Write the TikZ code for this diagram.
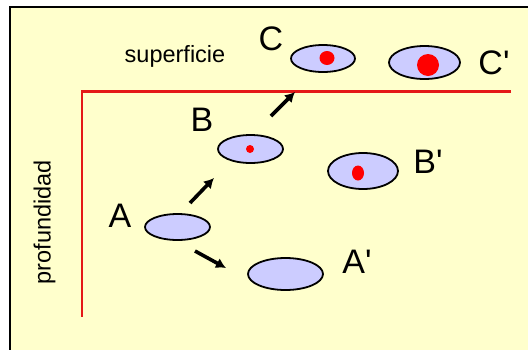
\documentclass[tikz,border=0pt]{standalone}
\usepackage{fontspec}
\setmainfont{Liberation Sans}
\usepackage{tikz}
\usetikzlibrary{arrows.meta,shapes.geometric}
\definecolor{paper}{RGB}{255,255,204}
\definecolor{lilac}{RGB}{204,204,255}
\definecolor{edge}{RGB}{228,24,24}

\begin{document}
\begin{tikzpicture}[x=1pt, y=-1pt,
blob/.style={draw, ellipse, line width=1.8pt, fill=lilac, inner sep=0pt},
dot/.style={fill=red, ellipse, inner sep=0pt},
letter/.style={inner sep=0pt, font=\fontsize{34}{34}\selectfont},
word/.style={inner sep=0pt, font=\fontsize{23.5}{23.5}\selectfont},
arr/.style={-{Latex[length=10pt, width=11pt]}, line width=3.6pt},
redline/.style={draw=edge, line width=2.6pt}
]
\useasboundingbox (0,0) rectangle (528,349);
\clip (0,0) rectangle (528,349);
\draw[fill=paper, line width=1.6pt] (10,7) rectangle (540,360);
\draw[redline] (511,91.5) -- (82,91.5) -- (82,317);
\node[word] (sup) at (175,56) {superficie};
\node[word, rotate=90] (prof) at (44.5,222) {profundidad};
\node[blob, minimum width=65pt, minimum height=26pt] (A) at (177.5,227) {};
\node[blob, minimum width=75pt, minimum height=32pt] (A2) at (285.5,274) {};
\node[blob, minimum width=65pt, minimum height=28pt] (B) at (250.5,149) {};
\node[blob, minimum width=70pt, minimum height=36pt] (B2) at (363,171) {};
\node[blob, minimum width=64pt, minimum height=27pt] (C) at (323,58.5) {};
\node[blob, minimum width=71pt, minimum height=33pt] (C2) at (424.5,62.5) {};
\node[dot, minimum width=8pt, minimum height=8pt] (dB) at (250,149) {};
\node[dot, minimum width=12pt, minimum height=15pt] (dB2) at (358,173) {};
\node[dot, minimum width=15pt, minimum height=14pt] (dC) at (327,58) {};
\node[dot, minimum width=22pt, minimum height=22pt] (dC2) at (428,65) {};
\node[letter] (lA) at (120,216) {A};
\node[letter] (lA2) at (357,262) {A\textquotesingle};
\node[letter] (lB) at (202,120) {B};
\node[letter] (lB2) at (428,162) {B\textquotesingle};
\node[letter] (lC) at (271,39) {C};
\node[letter] (lC2) at (494,63) {C\textquotesingle};
\coordinate (ab1) at (190,203);
\coordinate (ab2) at (214,178);
\coordinate (aa1) at (195,251);
\coordinate (aa2) at (226,268);
\coordinate (bc1) at (271,116);
\coordinate (bc2) at (295,92);
\draw[arr] (ab1) -- (ab2);
\draw[arr] (aa1) -- (aa2);
\draw[arr] (bc1) -- (bc2);
\end{tikzpicture}
\end{document}
